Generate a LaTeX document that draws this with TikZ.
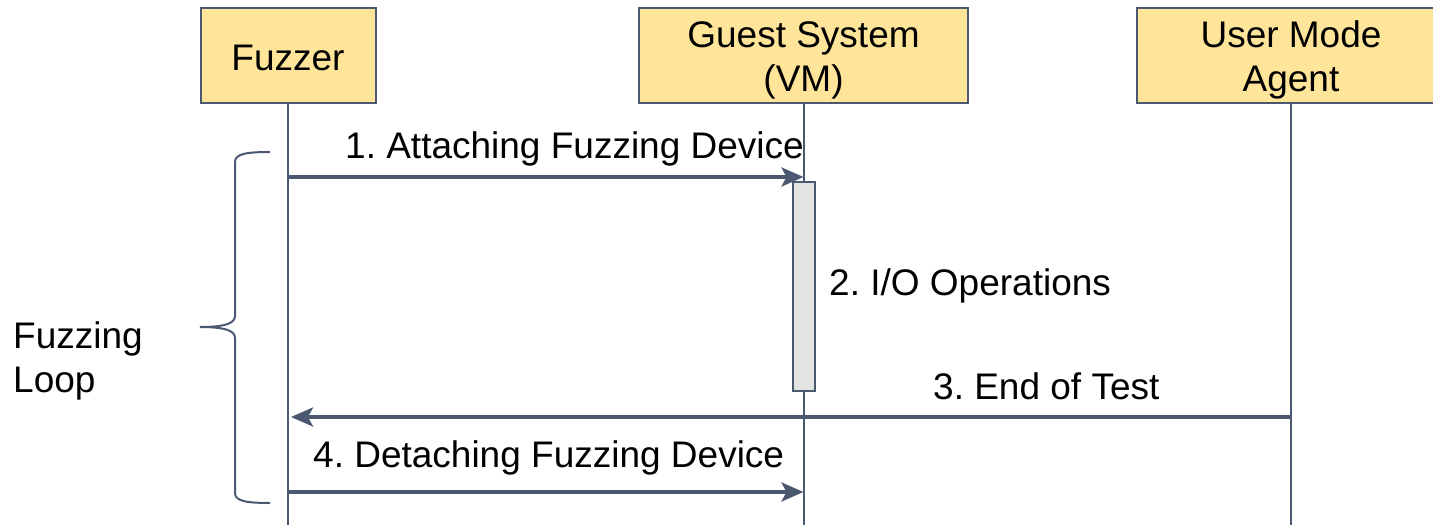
\documentclass[tikz,border=0pt]{standalone}
\usepackage{fontspec}
\setmainfont{Liberation Sans}
\usetikzlibrary{arrows.meta}
\definecolor{boxfill}{HTML}{FFE599}
\definecolor{slate}{HTML}{4A5870}
\definecolor{actfill}{HTML}{E3E3E3}
\frenchspacing
\begin{document}
\begin{tikzpicture}[x=1pt,y=-1pt,
  actor/.style={draw=slate, line width=2pt, fill=boxfill, minimum height=95pt, inner sep=0pt},
  actortext/.style={anchor=base, align=center, inner sep=0pt, font=\fontsize{37}{44}\selectfont},
  lifeline/.style={draw=slate, line width=2pt},
  msg/.style={draw=slate, line width=3.5pt, -{Stealth[length=22pt,width=19pt,inset=5pt]}},
  lbl/.style={anchor=base west, inner sep=0pt, font=\fontsize{37}{44}\selectfont},
  actbar/.style={draw=slate, fill=actfill, line width=2pt, minimum width=22pt, minimum height=209pt, inner sep=0pt},
  bracepath/.style={draw=slate, line width=2pt}
]
\useasboundingbox (0,0) rectangle (1433,525);
\clip (0,0) rectangle (1433,525);
\coordinate (bottom) at (0,525);
\coordinate (m1) at (0,177);
\coordinate (m3) at (0,417);
\coordinate (m4) at (0,492);

% actor positions
\coordinate (fzc) at (288,55.5);
\coordinate (gsc) at (803.5,55.5);
\coordinate (uac) at (1291,55.5);

% lifelines
\draw[lifeline] (fzc) -- (fzc |- bottom);
\draw[lifeline] (gsc) -- (gsc |- bottom);
\draw[lifeline] (uac) -- (uac |- bottom);

% actors
\node[actor, minimum width=175pt] (fuzzer) at (fzc) {};
\node[actor, minimum width=329pt] (guest) at (gsc) {};
\node[actor, minimum width=308pt] (agent) at (uac) {};
\node[actortext] (fuzzertxt) at (288,70) {Fuzzer};
\node[actortext] (guesttxt) at (803.5,91) {Guest System\\(VM)};
\node[actortext] (agenttxt) at (1291,91) {User Mode\\Agent};

% activation bar
\node[actbar] (act) at (804,286.5) {};

% messages
\draw[msg] (fuzzer.south |- m1) -- (guest.south |- m1);
\draw[msg, shorten >=3pt] (agent.south |- m3) -- (fuzzer.south |- m3);
\draw[msg] (fuzzer.south |- m4) -- (guest.south |- m4);

% labels
\node[lbl] (l1) at (345,158) {1. Attaching Fuzzing Device};
\node[lbl] (l2) at (829,295) {2. I/O Operations};
\node[lbl] (l3) at (933,399) {3. End of Test};
\node[lbl] (l4) at (313,467) {4. Detaching Fuzzing Device};
\node[lbl, align=left] (loop) at (13,392) {Fuzzing\\Loop};

% brace
\draw[bracepath] (270,152) .. controls (246,152) and (235,154) .. (235,162)
  -- (235,316) .. controls (235,323) and (226,327) .. (200,327)
  .. controls (226,327) and (235,331) .. (235,338)
  -- (235,493) .. controls (235,501) and (246,503) .. (270,503);
\end{tikzpicture}
\end{document}
